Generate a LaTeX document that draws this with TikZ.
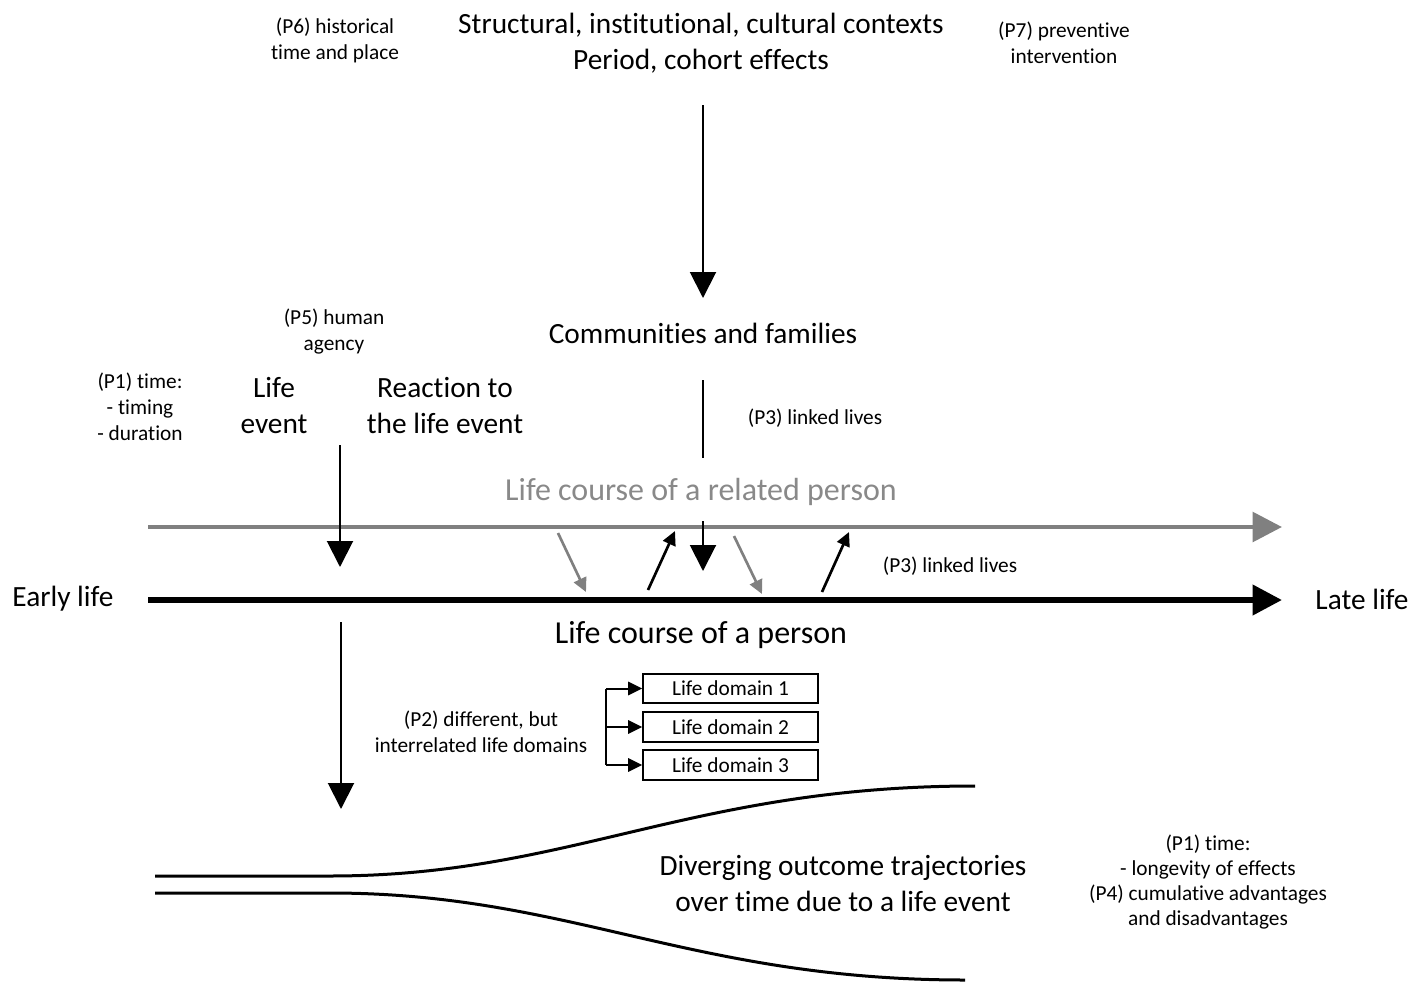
\documentclass[tikz,border=0pt]{standalone}
\usepackage{fontspec}
\setmainfont{Carlito}[Ligatures=NoCommon]
\usetikzlibrary{arrows.meta}
\definecolor{lgray}{RGB}{128,128,128}
\definecolor{tgray}{RGB}{137,137,137}
\begin{document}
\begin{tikzpicture}[x=0.75pt,y=-0.75pt,
  big/.style={font=\fontsize{22}{27}\selectfont, align=center, inner sep=0pt},
  bigger/.style={font=\fontsize{24}{29}\selectfont, align=center, inner sep=0pt},
  small/.style={font=\fontsize{16}{19.5}\selectfont, align=center, inner sep=0pt},
  bigarrow/.style={-{Triangle[length=19.5pt,width=19.5pt]}, line width=1.5pt},
  smallarrow/.style={-{Triangle[length=10.5pt,width=10pt]}, line width=2pt},
  mainline/.style={-{Triangle[length=22pt,width=22pt]}, line width=4.5pt},
  domainbox/.style={draw, line width=1.5pt, minimum width=131pt, minimum height=22pt, inner sep=0pt, font=\fontsize{16}{19.5}\selectfont},
  traj/.style={line width=2.25pt}
]
\useasboundingbox (0,0) rectangle (1415,982);

% texts
\node[big] (title) at (701,43.5) {Structural, institutional, cultural contexts\\Period, cohort effects};
\node[small] (p6) at (335,40) {(P6) historical\\time and place};
\node[small] (p7) at (1064,43) {(P7) preventive\\intervention};
\node[big] (comm) at (703,333) {Communities and families};
\node[small] (p5) at (334,332) {(P5) human\\agency};
\node[small] (p1) at (140,407) {(P1) time:\\- timing\\- duration};
\node[big] (event) at (274,406) {Life\\event};
\node[big] (reaction) at (445,406) {Reaction to\\the life event};
\node[small] (p3a) at (815,418) {(P3) linked lives};
\node[bigger, text=tgray] (related) at (701,492) {Life course of a related person};
\node[small] (p3b) at (950,566) {(P3) linked lives};
\node[big] (early) at (63,599) {Early life};
\node[big] (late) at (1362,599) {Late life};
\node[bigger] (person) at (701,635) {Life course of a person};
\node[small] (p2) at (481,732) {(P2) different, but\\interrelated life domains};
\node[big] (div) at (843,884) {Diverging outcome trajectories\\over time due to a life event};
\node[small, font=\fontsize{16}{18.8}\selectfont] (p1b) at (1208,882) {(P1) time:\\- longevity of effects\\(P4) cumulative advantages\\and disadvantages};

% life domain boxes
\node[domainbox] (d1) at (730.5,688.5) {Life domain 1};
\node[domainbox] (d2) at (730.5,727) {Life domain 2};
\node[domainbox] (d3) at (730.5,765) {Life domain 3};

% coordinates
\coordinate (ctop1) at (703,105);
\coordinate (ctop2) at (703,298);
\coordinate (cl1) at (703,380);
\coordinate (cl2) at (703,458);
\coordinate (rs) at (148,527);
\coordinate (re) at (1282,527);
\coordinate (ms) at (148,600);
\coordinate (me) at (1282,600);
\coordinate (ev1) at (340,445);
\coordinate (ev2) at (340,567);
\coordinate (dn1) at (341,622);
\coordinate (dn2) at (341,809);
\coordinate (g1a) at (558,533);
\coordinate (g1b) at (586,592);
\coordinate (b1a) at (648,590);
\coordinate (b1b) at (675,531);
\coordinate (c1) at (703,521);
\coordinate (c2) at (703,571);
\coordinate (g2a) at (734,536);
\coordinate (g2b) at (762,594);
\coordinate (b2a) at (822,592);
\coordinate (b2b) at (849,532);
\coordinate (bt) at (606,688.5);
\coordinate (bm) at (606,727);
\coordinate (bb) at (606,765);
\coordinate (u0) at (155,876);
\coordinate (u1) at (330,876);
\coordinate (u2) at (975,786);
\coordinate (l0) at (155,893);
\coordinate (l1) at (330,893);
\coordinate (l2) at (965,980);

% connectors
\draw[bigarrow] (ctop1) -- (ctop2);
\draw[line width=1.5pt] (cl1) -- (cl2);
\draw[mainline, lgray, line width=3.5pt] (rs) -- (re);
\draw[mainline] (ms) -- (me);
\draw[bigarrow] (ev1) -- (ev2);
\draw[bigarrow] (dn1) -- (dn2);
\draw[smallarrow, lgray] (g1a) -- (g1b);
\draw[smallarrow] (b1a) -- (b1b);
\draw[bigarrow] (c1) -- (c2);
\draw[smallarrow, lgray] (g2a) -- (g2b);
\draw[smallarrow] (b2a) -- (b2b);

\draw[line width=1.5pt] (bt) -- (bb);
\draw[smallarrow, line width=1.5pt] (bt) -- (d1.west);
\draw[smallarrow, line width=1.5pt] (bm) -- (d2.west);
\draw[smallarrow, line width=1.5pt] (bb) -- (d3.west);

\draw[traj] (u0) -- (u1) .. controls (570,876) and (690,786) .. (u2);
\draw[traj] (l0) -- (l1) .. controls (570,893) and (690,980) .. (l2);
\end{tikzpicture}
\end{document}
